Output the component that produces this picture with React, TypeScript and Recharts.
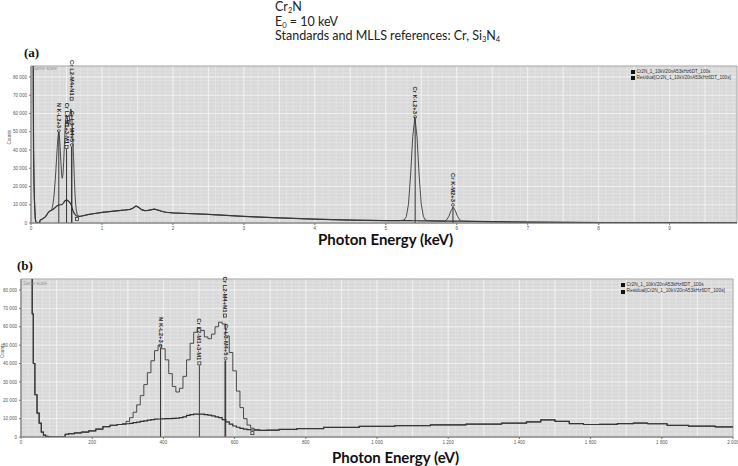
import React from 'react';
import {
  LineChart,
  Line,
  XAxis,
  YAxis,
  CartesianGrid,
  ReferenceLine,
  ReferenceDot,
  ReferenceArea,
} from 'recharts';

// low energy part, eV (both panels)
const energyEv = [
  0, 10, 20, 30, 33, 36, 42, 48, 54, 60, 66, 72, 80, 90, 100, 110, 120, 128, 140, 160,
  180, 200, 220, 240, 260, 280, 290, 300, 310, 320, 330, 340, 350, 360, 370, 380, 390, 400,
  410, 420, 430, 440, 450, 460, 470, 480, 490, 500, 510, 520, 530, 540, 550, 560, 570, 580,
  590, 600, 610, 620, 630, 640, 650, 660, 680, 700, 750, 800, 900, 1000, 1100, 1200, 1300,
  1400, 1440, 1480, 1520, 1560, 1600, 1650, 1700, 1740, 1780, 1850, 1900, 2000,
];
const spectrumCounts = [
  200000, 200000, 190000, 120000, 67000, 40000, 23000, 13000, 7500, 2700, 1000, 400, 100, 0, 0, 0, 0, 1500, 1800, 2200,
  2700, 3300, 4300, 5600, 6400, 6800, 7200, 8500, 10500, 13500, 17500, 22500, 28500, 35000, 41500, 47000, 50000, 48000,
  42000, 34500, 27500, 24500, 26500, 33000, 42000, 51000, 57000, 59000, 58000, 54500, 53500, 56000, 60000, 62500, 61500, 55000,
  46000, 36000, 25000, 16000, 10000, 6500, 4800, 4000, 3600, 3700, 4100, 4600, 5200, 5800, 6200, 6600, 7000,
  7500, 8200, 9300, 8500, 7300, 6800, 6900, 7300, 7600, 7200, 6300, 5900, 5500,
];
const residualCounts = [
  200000, 200000, 190000, 120000, 67000, 40000, 23000, 13000, 7500, 2700, 1000, 400, 100, 0, 0, 0, 0, 1500, 1800, 2200,
  2700, 3300, 4300, 5600, 6400, 6800, 7000, 7200, 7400, 7800, 8100, 8500, 8800, 9200, 9500, 9700, 9800, 9900,
  10000, 10000, 10100, 10300, 10600, 11000, 11800, 12200, 12400, 12500, 12500, 12200, 11900, 11500, 11000, 10500, 9500, 8200,
  7000, 6000, 5300, 4700, 4300, 4000, 3800, 3700, 3600, 3700, 4100, 4600, 5200, 5800, 6200, 6600, 7000,
  7500, 8200, 9300, 8500, 7300, 6800, 6900, 7300, 7600, 7200, 6300, 5900, 5500,
];

// rest of the spectrum, keV (panel a only)
const highEnergyKeV = [
  2.2, 2.5, 3.0, 3.5, 4.0, 4.5, 5.0, 5.2, 5.26, 5.29, 5.32, 5.35, 5.38, 5.41, 5.44, 5.47, 5.5, 5.53, 5.56, 5.6,
  5.83, 5.86, 5.89, 5.92, 5.95, 5.98, 6.01, 6.04, 6.07, 6.2, 6.5, 7.0, 7.5, 8.0, 9.0, 9.95,
];
const highSpectrumCounts = [
  5200, 4700, 3600, 2800, 2100, 1600, 1300, 1300, 1650, 3500, 10300, 26300, 47300, 58000, 47300, 26300, 10300, 3500, 1600, 1200,
  1100, 1800, 3700, 6800, 8600, 6800, 3700, 1800, 1100, 900, 700, 450, 350, 280, 180, 120,
];
const highResidualCounts = [
  5200, 4700, 3600, 2800, 2100, 1600, 1300, 1300, 1280, 1270, 1260, 1250, 1240, 1230, 1220, 1210, 1200, 1190, 1180, 1170,
  1050, 1040, 1030, 1020, 1010, 1000, 990, 980, 970, 900, 700, 450, 350, 280, 180, 120,
];

const countTicks = [0, 10000, 20000, 30000, 40000, 50000, 60000, 70000, 80000];
const keVTicks = [0, 1, 2, 3, 4, 5, 6, 7, 8, 9];
const eVTicks = [0, 200, 400, 600, 800, 1000, 1200, 1400, 1600, 1800, 2000];

// peak markers (keV), where the label ends and where the stem line stops
const markerNames = ['N K-L2+3', 'Cr L2-M1+3-M1', 'Cr L2-M4+N1', 'Cr L3-M4+5', 'Cr K-L2+3', 'Cr K-M2+3', ''];
const markerKeV = [0.392, 0.501, 0.573, 0.575, 5.414, 5.947, 0.65];
const markerSymbols = ['circle', 'square', 'square', 'circle', 'circle', 'circle', 'square'];
const labelEndA = [49300, 40500, 67000, 41600, 57000, 8800, 1200];
const stemTopA = [49300, 40500, 41600, 41600, 57000, 8800, 0];
const labelEndB = [48600, 39000, 65000, 41600, 0, 0, 1000];
const stemTopB = [48600, 39000, 41600, 41600, 0, 0, 0];

const seriesNames = ['Cr2N_1_10kV20nA53kHz6DT_100s', 'Residual[Cr2N_1_10kV20nA53kHz6DT_100s]'];

const panelA = [
  ...energyEv.map((e, i) => ({ x: e / 1000, spectrum: spectrumCounts[i], residual: residualCounts[i] })),
  ...highEnergyKeV.map((e, i) => ({ x: e, spectrum: highSpectrumCounts[i], residual: highResidualCounts[i] })),
];
const panelB = energyEv.map((e, i) => ({ x: e, spectrum: spectrumCounts[i], residual: residualCounts[i] }));

// thousands split by a non-breaking space so the tick text does not wrap
const fmt = (v: number) => String(v).replace(/\B(?=(\d{3})+(?!\d))/g, '\u00a0');
const tickFont = { fontSize: 4.6, fill: '#555', fontFamily: 'Liberation Sans, Arial' };
const Y_MAX = 86000;

const range = (a: number, b: number, step: number) => {
  const out: number[] = [];
  for (let v = a; v <= b + 1e-9; v += step) out.push(+v.toFixed(4));
  return out;
};

const markerShape = (label: string, symbol: string, fontSize: number) => (props: any) => {
  const { cx, cy } = props;
  if (cx == null || cy == null) return <g />;
  return (
    <g>
      {symbol === 'circle' ? (
        <circle cx={cx} cy={cy - 2} r={1.4} fill="none" stroke="#222" strokeWidth={0.7} />
      ) : (
        <rect x={cx - 1.5} y={cy - 3.5} width={3} height={3} fill="none" stroke="#222" strokeWidth={0.7} />
      )}
      {label && (
        <text
          transform={`translate(${cx},${cy - 5}) rotate(90)`}
          textAnchor="end"
          dominantBaseline="central"
          fontSize={fontSize}
          fontWeight="bold"
          fill="#222"
          fontFamily="Liberation Sans, Arial"
        >
          {label}
        </text>
      )}
    </g>
  );
};

function SpectrumPanel(props: {
  data: any[];
  xMax: number;
  xTicks: number[];
  minorStep: number;
  labelEnd: number[];
  stemTop: number[];
  markerScale: number;
  labelFont: number;
  yAxisWidth: number;
  rightMargin: number;
  topMargin: number;
  height: number;
  step: boolean;
  countsOffset: number;
}) {
  const { data, xMax, xTicks, minorStep, labelEnd, stemTop, markerScale, labelFont } = props;
  const markerX = markerKeV.map((k) => k * markerScale);
  return (
    <LineChart
      width={738}
      height={props.height}
      data={data}
      margin={{ top: props.topMargin, right: props.rightMargin, left: 0, bottom: 0 }}
    >
      <CartesianGrid
        fill="#d9d9d9"
        stroke="#e7e7e7"
        strokeWidth={0.6}
        verticalValues={range(0, xMax, minorStep)}
        horizontalValues={range(0, Y_MAX, 2000)}
      />
      <CartesianGrid
        stroke="#f2f2f2"
        strokeWidth={0.9}
        verticalValues={range(0, xMax, minorStep * 5)}
        horizontalValues={range(0, Y_MAX, 10000)}
      />
      <ReferenceArea x1={0} x2={xMax} y1={0} y2={Y_MAX} fill="none" stroke="#a8a8a8" strokeWidth={1} />
      <XAxis
        dataKey="x"
        type="number"
        domain={[0, xMax]}
        ticks={xTicks}
        tickFormatter={fmt}
        allowDataOverflow
        height={14}
        tickSize={2}
        tick={tickFont}
        stroke="#777"
        interval={0}
      />
      <YAxis
        type="number"
        domain={[0, Y_MAX]}
        ticks={countTicks}
        tickFormatter={fmt}
        allowDataOverflow
        width={props.yAxisWidth}
        tickSize={2}
        tick={tickFont}
        stroke="#777"
        interval={0}
        label={{
          value: 'Counts',
          angle: -90,
          position: 'insideLeft',
          offset: props.countsOffset,
          style: { fontSize: 4.6, fill: '#555', fontFamily: 'Liberation Sans, Arial' },
        }}
      />
      <Line
        type={props.step ? 'step' : 'linear'}
        dataKey="residual"
        name={seriesNames[1]}
        stroke="#2e2e2e"
        strokeWidth={1.2}
        dot={false}
        activeDot={false}
        isAnimationActive={false}
      />
      <Line
        type={props.step ? 'step' : 'linear'}
        dataKey="spectrum"
        name={seriesNames[0]}
        stroke="#3a3a3a"
        strokeWidth={0.9}
        dot={false}
        activeDot={false}
        isAnimationActive={false}
      />
      {markerX.map((mx, i) =>
        mx <= xMax && stemTop[i] > 0 ? (
          <ReferenceLine
            key={`s${i}`}
            segment={[
              { x: mx, y: 0 },
              { x: mx, y: stemTop[i] },
            ]}
            stroke="#333"
            strokeWidth={1}
          />
        ) : null
      )}
      {markerX.map((mx, i) =>
        mx <= xMax && labelEnd[i] > 0 ? (
          <ReferenceDot
            key={`d${i}`}
            x={mx}
            y={labelEnd[i]}
            r={1}
            shape={markerShape(markerNames[i], markerSymbols[i], labelFont)}
          />
        ) : null
      )}
    </LineChart>
  );
}

function LegendBox(props: { left: number; top: number; font: number }) {
  return (
    <div
      style={{
        position: 'absolute',
        left: props.left,
        top: props.top,
        fontFamily: 'Liberation Sans, Arial',
        fontSize: props.font,
        color: '#333',
        lineHeight: `${props.font + 1.6}px`,
      }}
    >
      {seriesNames.map((n) => (
        <div key={n} style={{ display: 'flex', alignItems: 'center', gap: 1.5, whiteSpace: 'nowrap' }}>
          <div style={{ width: 4, height: 4, background: '#111' }} />
          <span>{n}</span>
        </div>
      ))}
    </div>
  );
}

const abs = (left: number, top: number, extra: React.CSSProperties = {}): React.CSSProperties => ({
  position: 'absolute',
  left,
  top,
  whiteSpace: 'nowrap',
  ...extra,
});

const subStyle: React.CSSProperties = { fontSize: 7.5, position: 'relative', top: 2, lineHeight: 0 };

export default function App() {
  const titleFont: React.CSSProperties = { fontFamily: 'Lato, sans-serif', fontSize: 12.5, color: '#222', lineHeight: '12px' };
  const axisTitle: React.CSSProperties = { fontFamily: 'Lato, sans-serif', fontSize: 15, fontWeight: 'bold', color: '#111' };
  const panelTag: React.CSSProperties = { fontFamily: 'Liberation Serif, serif', fontSize: 13, fontWeight: 'bold', color: '#111' };
  const sameScale: React.CSSProperties = { fontFamily: 'Liberation Sans, Arial', fontSize: 4.6, color: '#9a9a9a' };
  return (
    <div style={{ position: 'absolute', left: 0, top: 0, width: 738, height: 466, background: '#fff', overflow: 'hidden' }}>
      <div style={abs(275, 1, titleFont)}>
        Cr<span style={subStyle}>2</span>N
      </div>
      <div style={abs(275, 15.5, titleFont)}>
        E<span style={subStyle}>0</span> = 10 keV
      </div>
      <div style={abs(275, 30, titleFont)}>
        Standards and MLLS references: Cr, Si<span style={subStyle}>3</span>N<span style={subStyle}>4</span>
      </div>
      <div style={abs(24, 45, panelTag)}>(a)</div>

      <div style={abs(0, 60)}>
        <SpectrumPanel
          data={panelA}
          xMax={9.95}
          xTicks={keVTicks}
          minorStep={0.1}
          labelEnd={labelEndA}
          stemTop={stemTopA}
          markerScale={1}
          labelFont={5.8}
          yAxisWidth={31}
          rightMargin={1}
          topMargin={6}
          height={177}
          step={false}
          countsOffset={9}
        />
      </div>
      <div style={abs(33, 66, sameScale)}>Same scale</div>
      <LegendBox left={631} top={69} font={4.6} />
      <div style={abs(318, 230, axisTitle)}>Photon Energy (keV)</div>

      <div style={abs(17, 258, panelTag)}>(b)</div>
      <div style={abs(0, 275)}>
        <SpectrumPanel
          data={panelB}
          xMax={2000}
          xTicks={eVTicks}
          minorStep={20}
          labelEnd={labelEndB}
          stemTop={stemTopB}
          markerScale={1000}
          labelFont={5.9}
          yAxisWidth={21}
          rightMargin={5}
          topMargin={4}
          height={176}
          step={true}
          countsOffset={2}
        />
      </div>
      <div style={abs(23, 281, sameScale)}>Same scale</div>
      <LegendBox left={621} top={282} font={4.8} />
      <div style={abs(332, 448, axisTitle)}>Photon Energy (eV)</div>
    </div>
  );
}
